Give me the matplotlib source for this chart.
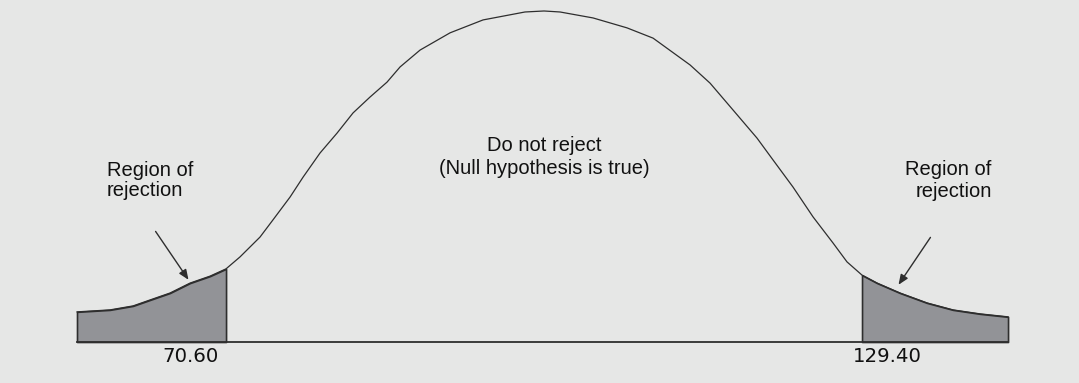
import numpy as np
import matplotlib.pyplot as plt

# curve (x value, relative height)
curve_x = [56.82, 59.87, 62.00, 63.57, 65.42, 67.27, 69.12, 70.60, 71.89, 73.74,
           74.94, 76.52, 77.72, 79.29, 80.86, 82.34, 83.91, 85.48, 86.69, 88.54,
           91.31, 94.36, 98.24, 100.0, 101.48, 104.53, 107.67, 110.08, 113.50, 115.35,
           117.47, 119.69, 121.17, 123.02, 124.87, 126.72, 128.01, 129.40, 130.79, 132.91,
           135.41, 137.81, 140.31, 142.90]
curve_h = [0.091, 0.097, 0.109, 0.127, 0.148, 0.178, 0.199, 0.221, 0.257, 0.317,
           0.369, 0.438, 0.498, 0.571, 0.631, 0.692, 0.740, 0.785, 0.831, 0.882,
           0.934, 0.973, 0.997, 1.000, 0.997, 0.979, 0.949, 0.918, 0.837, 0.782,
           0.701, 0.616, 0.550, 0.468, 0.378, 0.299, 0.242, 0.202, 0.178, 0.148,
           0.118, 0.097, 0.085, 0.076]

crit_low = 70.60
crit_high = 129.40
crit_labels = ["70.60", "129.40"]

mid_text = "Do not reject\n(Null hypothesis is true)"
tail_text = "Region of\nrejection"

x = np.array(curve_x)
h = np.array(curve_h)

bg = "#e6e7e6"
line_col = "#2e2e2e"
tail_col = "#929397"

fig = plt.figure(figsize=(10.79, 3.83), dpi=100, facecolor=bg)
ax = fig.add_axes([0, 0, 1, 1], facecolor=bg)
ax.set_xlim(49.70, 149.46)
ax.set_ylim(-0.1239, 1.0332)
ax.axis('off')

# the bell
ax.plot(x, h, color=line_col, lw=0.9)

# shaded tails
lo = x <= crit_low
hi = x >= crit_high
ax.fill_between(x[lo], 0, h[lo], facecolor=tail_col, edgecolor=line_col, lw=1.2)
ax.fill_between(x[hi], 0, h[hi], facecolor=tail_col, edgecolor=line_col, lw=1.2)

# base line
ax.plot([x[0], x[-1]], [0, 0], color=line_col, lw=1.3)

# texts
txt = dict(family="Liberation Sans", fontsize=14.5, color="#111111")
ax.text(100.0, 0.508, mid_text, ha="center", va="baseline", linespacing=1.25, **txt)
ax.text(59.60, 0.441, tail_text, ha="left", va="baseline", linespacing=1.1, **txt)
ax.text(141.40, 0.438, tail_text, ha="right", va="baseline", linespacing=1.2, **txt)

num = dict(family="DejaVu Sans", fontsize=14.2, color="#111111")
ax.text(crit_low - 3.25, -0.043, crit_labels[0], ha="center", va="center", **num)
ax.text(crit_high + 2.3, -0.043, crit_labels[1], ha="center", va="center", **num)

# arrows pointing at the tails
arrow = dict(arrowstyle="-|>,head_length=0.6,head_width=0.25", color=line_col, lw=1.0)
ax.annotate("", xy=(67.27, 0.181), xytext=(63.94, 0.341), arrowprops=arrow)
ax.annotate("", xy=(132.63, 0.166), xytext=(135.87, 0.323), arrowprops=arrow)

fig.savefig("out.png", dpi=100, facecolor=bg)
